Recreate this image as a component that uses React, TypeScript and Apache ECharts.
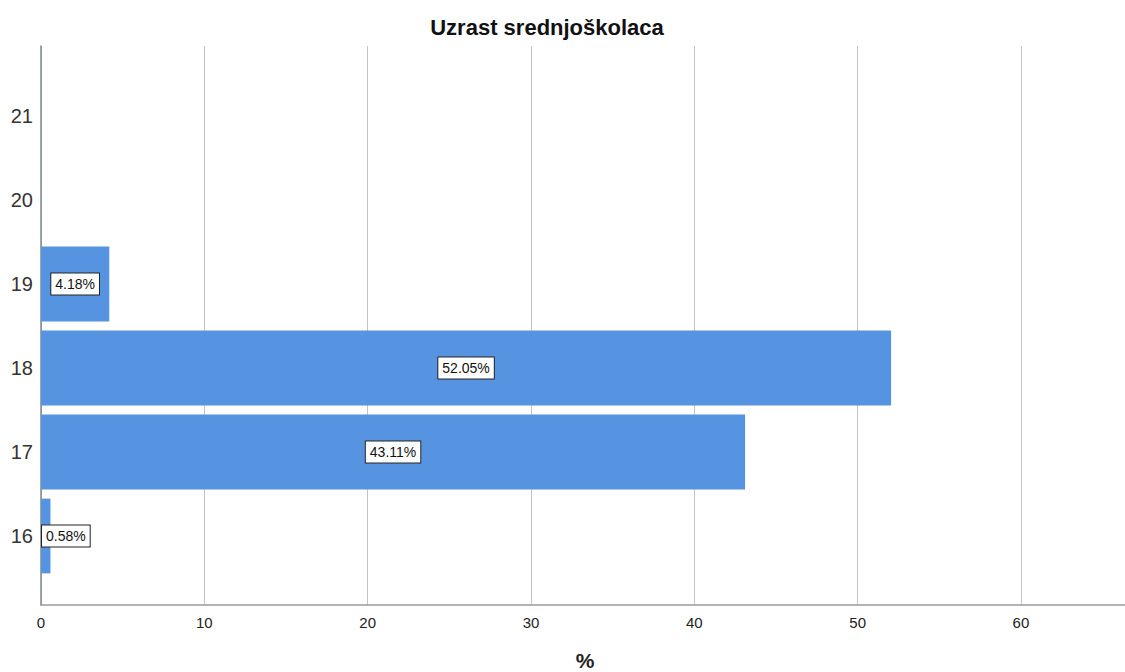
import React, { useEffect, useRef } from "react";
import * as echarts from "echarts";

const titleText = "Uzrast srednjoškolaca";
const axisTitle = "%";
const ages = ["16", "17", "18", "19", "20", "21"];
const percents = [0.58, 43.11, 52.05, 4.18, 0, 0];
const xTicks = [0, 10, 20, 30, 40, 50, 60];
const xMax = 66.37;

const BAR_COLOR = "#5694E2";
const FONT = "'Liberation Sans', Arial, sans-serif";

export default function App() {
  const ref = useRef<HTMLDivElement>(null);
  useEffect(() => {
    if (!ref.current) return;
    const chart = echarts.init(ref.current, null, { renderer: "svg" });
    const left = 41;
    const width = 1084;
    chart.setOption({
      animation: false,
      backgroundColor: "#ffffff",
      textStyle: { fontFamily: FONT },
      title: {
        text: titleText,
        left: 542,
        top: 11,
        textAlign: "center",
        textStyle: { fontSize: 22, fontWeight: "bold", color: "#111", fontFamily: FONT },
      },
      grid: [
        { left, width, top: 46, height: 559 },
        { left, width, top: 74, height: 504 },
      ],
      xAxis: [
        {
          gridIndex: 0,
          type: "value",
          min: 0,
          max: xMax,
          interval: 10,
          axisLine: { show: true, lineStyle: { color: "#9a9a9a", width: 1.5 } },
          axisTick: { show: false },
          splitLine: { show: true, lineStyle: { color: "#c4c4c4", width: 1 } },
          axisLabel: {
            color: "#222",
            fontSize: 15,
            margin: 10,
            fontFamily: FONT,
            formatter: (v: number) => (xTicks.includes(v) ? String(v) : ""),
            showMaxLabel: false,
          },
        },
        {
          gridIndex: 1,
          type: "value",
          min: 0,
          max: xMax,
          show: false,
        },
      ],
      yAxis: [
        {
          gridIndex: 0,
          type: "value",
          min: 0,
          max: 1,
          axisLine: { show: true, onZero: false, lineStyle: { color: "#7f8a8a", width: 1.5 } },
          axisTick: { show: false },
          axisLabel: { show: false },
          splitLine: { show: false },
        },
        {
          gridIndex: 1,
          type: "category",
          data: ages,
          axisLine: { show: false },
          axisTick: { show: false },
          splitLine: { show: false },
          axisLabel: {
            color: "#333",
            fontSize: 20,
            margin: 8,
            fontFamily: FONT,
            padding: [5, 0, 0, 0],
          },
        },
      ],
      series: [
        {
          type: "bar",
          xAxisIndex: 1,
          yAxisIndex: 1,
          barCategoryGap: "11%",
          itemStyle: { color: BAR_COLOR },
          data: percents.map((v) => ({
            value: v,
            label: {
              show: v > 0,
              position: v < 2 ? "insideLeft" : "inside",
              distance: 1,
              formatter: (p: any) => p.value.toFixed(2) + "%",
              color: "#111",
              fontSize: 14,
              fontFamily: FONT,
              backgroundColor: "#ffffff",
              borderColor: "#222",
              borderWidth: 1,
              padding: [4, 4, 3, 4],
            },
          })),
        },
      ],
      graphic: [
        {
          type: "text",
          x: 585,
          y: 660,
          style: {
            text: axisTitle,
            fontSize: 21,
            fontWeight: "bold",
            fill: "#222",
            fontFamily: FONT,
            textAlign: "center",
            textVerticalAlign: "middle",
          },
        },
      ],
    });
    return () => chart.dispose();
  }, []);
  return (
    <div
      ref={ref}
      style={{ position: "fixed", left: 0, top: 0, width: 1125, height: 672 }}
    />
  );
}
